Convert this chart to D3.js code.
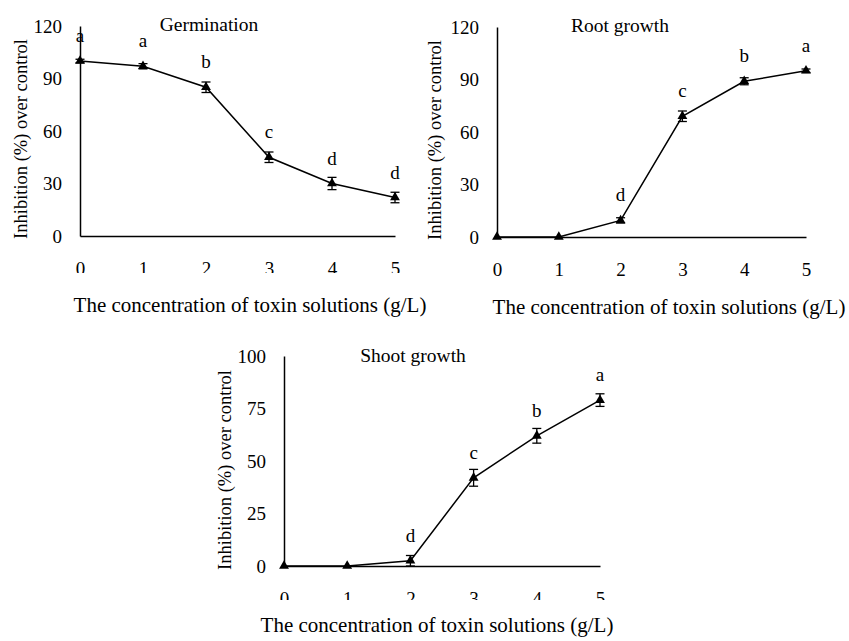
<!DOCTYPE html>
<html>
<head>
<meta charset="utf-8">
<script src="https://cdnjs.cloudflare.com/ajax/libs/d3/7.8.5/d3.min.js"></script>
<style>
  body { margin: 0; background: #fff; }
  svg { display: block; }
  text { font-family: "Liberation Serif", "Times New Roman", serif; fill: #000; }
</style>
</head>
<body>
<div id="chart"></div>
<script>
// concentration of toxin solutions (g/L)
var concentrations = [0, 1, 2, 3, 4, 5];

var germination = [100, 97, 85, 45, 30, 22];
var germinationErr = [1, 1.5, 3, 3, 3.5, 3];
var germinationLetters = ['a', 'a', 'b', 'c', 'd', 'd'];
var germinationTicks = [0, 30, 60, 90, 120];

var rootGrowth = [0, 0, 9.5, 69, 89, 95];
var rootErr = [0, 0, 1.5, 3, 2, 1];
var rootLetters = ['', '', 'd', 'c', 'b', 'a'];
var rootTicks = [0, 30, 60, 90, 120];

var shootGrowth = [0, 0, 2.5, 42, 62, 79];
var shootErr = [0, 0, 2.5, 4, 3.5, 3];
var shootLetters = ['', '', 'd', 'c', 'b', 'a'];
var shootTicks = [0, 25, 50, 75, 100];

var xTitle = 'The concentration of toxin solutions (g/L)';
var yTitle = 'Inhibition (%) over control';

var width = 849;
var height = 641;
var serif = '"Liberation Serif", "Times New Roman", serif';

var svg = d3.select('#chart').append('svg')
  .attr('width', width)
  .attr('height', height);

var defs = svg.append('defs');

function drawPanel(opts) {
  var g = svg.append('g');

  var x = d3.scaleLinear()
    .domain([0, 5])
    .range([opts.left, opts.right]);
  var y = d3.scaleLinear()
    .domain([0, d3.max(opts.ticks)])
    .range([opts.bottom, opts.top]);

  // the x tick labels are cut off in the original figure
  defs.append('clipPath')
    .attr('id', opts.id + '-clip')
    .append('rect')
    .attr('x', 0)
    .attr('y', 0)
    .attr('width', width)
    .attr('height', opts.clipY);

  var yAxis = g.append('g')
    .attr('transform', 'translate(' + opts.left + ',0)')
    .call(d3.axisLeft(y).tickValues(opts.ticks).tickSize(0).tickPadding(18));
  yAxis.attr('font-family', serif).attr('font-size', 19);
  yAxis.select('.domain').attr('stroke', '#000').attr('stroke-width', 1.5);

  var tickWrap = g.append('g').attr('clip-path', 'url(#' + opts.id + '-clip)');
  var xAxis = tickWrap.append('g')
    .attr('transform', 'translate(0,' + opts.bottom + ')')
    .call(d3.axisBottom(x).tickValues(concentrations).tickFormat(d3.format('d'))
      .tickSize(0).tickPadding(26));
  xAxis.attr('font-family', serif).attr('font-size', 19);
  xAxis.select('.domain').attr('stroke', '#000').attr('stroke-width', 1.5);

  var pts = concentrations.map(function (c, i) {
    return { x: c, v: opts.values[i], e: opts.errs[i], l: opts.letters[i] };
  });

  var line = d3.line()
    .x(function (d) { return x(d.x); })
    .y(function (d) { return y(d.v); });

  g.append('path')
    .datum(pts)
    .attr('d', line)
    .attr('fill', 'none')
    .attr('stroke', '#000')
    .attr('stroke-width', 1.5);

  var bars = g.selectAll('.err')
    .data(pts.filter(function (d) { return d.e > 0; }))
    .enter()
    .append('g')
    .attr('class', 'err')
    .attr('stroke', '#000')
    .attr('stroke-width', 1.3);
  bars.append('line')
    .attr('x1', function (d) { return x(d.x); })
    .attr('x2', function (d) { return x(d.x); })
    .attr('y1', function (d) { return y(d.v - d.e); })
    .attr('y2', function (d) { return y(d.v + d.e); });
  [1, -1].forEach(function (s) {
    bars.append('line')
      .attr('x1', function (d) { return x(d.x) - 4.5; })
      .attr('x2', function (d) { return x(d.x) + 4.5; })
      .attr('y1', function (d) { return y(d.v + s * d.e); })
      .attr('y2', function (d) { return y(d.v + s * d.e); });
  });

  g.selectAll('.marker')
    .data(pts)
    .enter()
    .append('path')
    .attr('class', 'marker')
    .attr('d', d3.symbol().type(d3.symbolTriangle).size(42))
    .attr('transform', function (d) {
      return 'translate(' + x(d.x) + ',' + y(d.v) + ')';
    })
    .attr('fill', '#000');

  g.selectAll('.letter')
    .data(pts.filter(function (d) { return d.l; }))
    .enter()
    .append('text')
    .attr('class', 'letter')
    .attr('x', function (d) { return x(d.x); })
    .attr('y', function (d) { return y(d.v) - 19; })
    .attr('text-anchor', 'middle')
    .style('font-size', '19px')
    .text(function (d) { return d.l; });

  g.append('text')
    .attr('x', opts.titleX)
    .attr('y', opts.titleY)
    .attr('text-anchor', 'middle')
    .style('font-size', '19.5px')
    .text(opts.title);

  g.append('text')
    .attr('transform', 'translate(' + opts.yTitleX + ',' + opts.yTitleY + ') rotate(-90)')
    .attr('text-anchor', 'middle')
    .style('font-size', '18.5px')
    .text(yTitle);

  g.append('text')
    .attr('x', opts.xTitleX)
    .attr('y', opts.xTitleY)
    .attr('text-anchor', 'middle')
    .style('font-size', '21px')
    .text(xTitle);
}

drawPanel({
  id: 'germ', title: 'Germination',
  values: germination, errs: germinationErr, letters: germinationLetters, ticks: germinationTicks,
  left: 80, right: 395, top: 26, bottom: 236, clipY: 273,
  titleX: 209, titleY: 31, yTitleX: 27, yTitleY: 139, xTitleX: 250, xTitleY: 312
});

drawPanel({
  id: 'root', title: 'Root growth',
  values: rootGrowth, errs: rootErr, letters: rootLetters, ticks: rootTicks,
  left: 497, right: 806, top: 27, bottom: 237, clipY: height,
  titleX: 620, titleY: 31.5, yTitleX: 441, yTitleY: 140, xTitleX: 669, xTitleY: 314
});

drawPanel({
  id: 'shoot', title: 'Shoot growth',
  values: shootGrowth, errs: shootErr, letters: shootLetters, ticks: shootTicks,
  left: 284, right: 600, top: 356, bottom: 566, clipY: 600,
  titleX: 413, titleY: 361.5, yTitleX: 231, yTitleY: 470, xTitleX: 437, xTitleY: 632
});
</script>
</body>
</html>
